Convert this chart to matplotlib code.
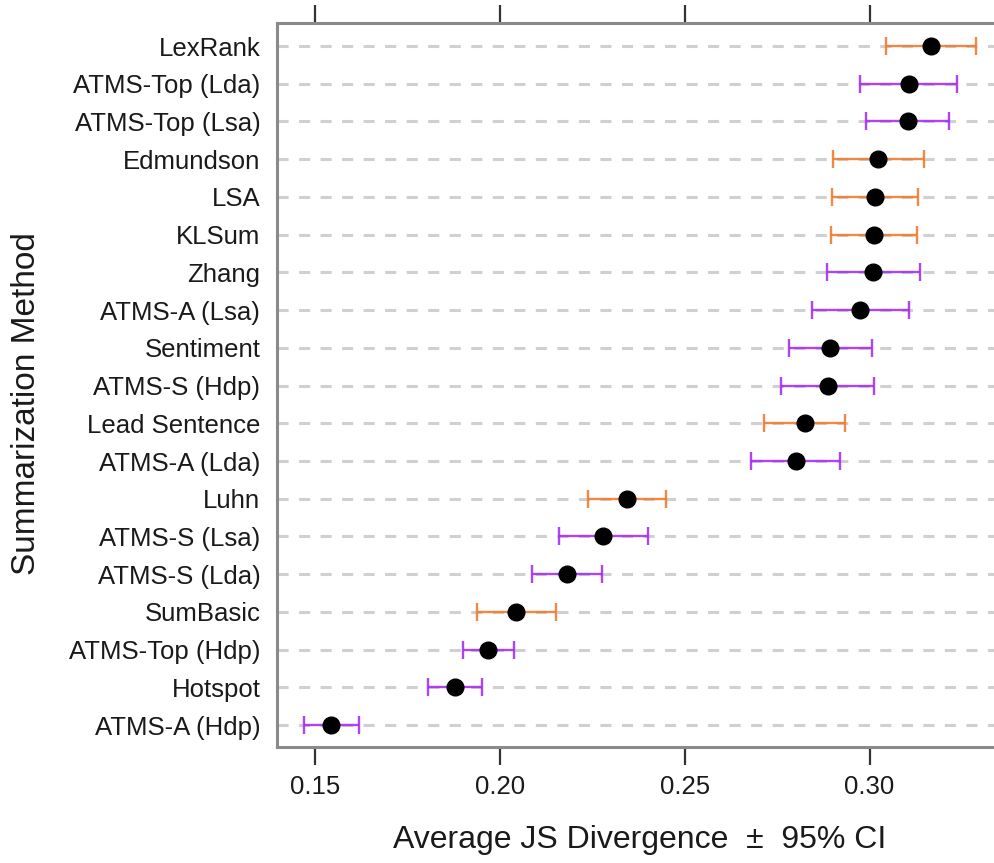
import numpy as np
import matplotlib
matplotlib.use("Agg")
import matplotlib.pyplot as plt

plt.rcParams['font.family'] = ['Liberation Sans', 'DejaVu Sans']
plt.rcParams['lines.scale_dashes'] = False

# methods listed top to bottom
methods = ["LexRank", "ATMS-Top (Lda)", "ATMS-Top (Lsa)", "Edmundson", "LSA",
           "KLSum", "Zhang", "ATMS-A (Lsa)", "Sentiment", "ATMS-S (Hdp)",
           "Lead Sentence", "ATMS-A (Lda)", "Luhn", "ATMS-S (Lsa)",
           "ATMS-S (Lda)", "SumBasic", "ATMS-Top (Hdp)", "Hotspot", "ATMS-A (Hdp)"]
js_mean = [0.3166, 0.3106, 0.3103, 0.3024, 0.3015,
           0.3012, 0.3010, 0.2975, 0.2894, 0.2887,
           0.2824, 0.2800, 0.2344, 0.2279,
           0.2181, 0.2044, 0.1968, 0.1877, 0.1543]
ci95 = [0.0121, 0.0132, 0.0113, 0.0123, 0.0116,
        0.0116, 0.0126, 0.0132, 0.0113, 0.0126,
        0.0109, 0.0121, 0.0105, 0.0121,
        0.0094, 0.0107, 0.0069, 0.0073, 0.0074]
# "b" = baseline method (orange), "t" = topic/other method (purple)
group = ["b", "t", "t", "b", "b",
         "b", "t", "t", "t", "t",
         "b", "t", "b", "t",
         "t", "b", "t", "t", "t"]
xticks = [0.15, 0.20, 0.25, 0.30]

colours = {"b": "#F27B2E", "t": "#A52FF5"}

fig = plt.figure(figsize=(9.95, 8.63), dpi=100)
# axes runs past the right edge of the figure, as in the cropped original
ax = fig.add_axes([277 / 995, 116 / 863, 730 / 995, 724 / 863])

n = len(methods)
ypos = np.arange(n)[::-1]

# dashed guide lines behind every row
for y in ypos:
    ax.axhline(y, color="#d0d0d0", lw=2.2, dashes=(8, 7.5), zorder=1)

for y, m, c, g in zip(ypos, js_mean, ci95, group):
    ax.errorbar(m, y, xerr=c, fmt="none", ecolor=colours[g], elinewidth=1.7,
                capsize=6.7, capthick=1.7, alpha=0.9, zorder=2)
ax.plot(js_mean, ypos, "o", color="black", markersize=12, zorder=3)

ax.set_xlim(0.1396, 0.3372)
ax.set_ylim(-0.58, n - 1 + 0.61)

ax.set_yticks(ypos)
ax.set_yticklabels(methods, fontsize=18.5, color="#1a1a1a")
ax.set_xticks(xticks)
ax.set_xticklabels(["%.2f" % t for t in xticks], fontsize=18.5, color="#1a1a1a")

ax.tick_params(axis="y", length=0, pad=12)
ax.tick_params(axis="x", direction="out", length=13, width=1.6, color="#333333",
               pad=7, top=True, labeltop=False)

for side in ["left", "top", "bottom"]:
    ax.spines[side].set_color("#8a8a8a")
    ax.spines[side].set_linewidth(2.2)
ax.spines["right"].set_visible(False)

ax.set_xlabel("Average JS Divergence  \u00b1  95% CI", fontsize=23, color="#1a1a1a")
ax.xaxis.set_label_coords(0.497, -0.108)
ax.set_ylabel("Summarization Method", fontsize=24, color="#1a1a1a")
ax.yaxis.set_label_coords(-0.322, 0.474)

fig.savefig("out.png", dpi=100)
